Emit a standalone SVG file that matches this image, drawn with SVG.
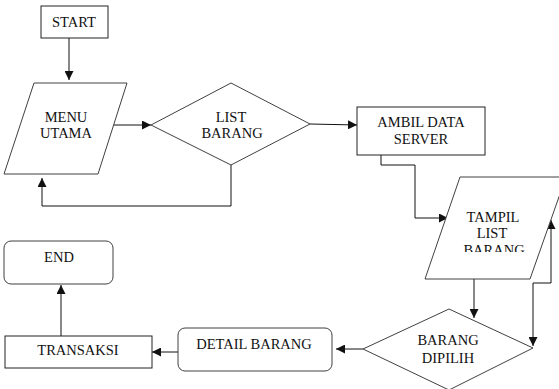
<svg xmlns="http://www.w3.org/2000/svg" width="559" height="389" viewBox="0 0 559 389">
<style>
.shape{fill:#fff;stroke:#404040;stroke-width:1}
.box{fill:#fff;stroke:#222;stroke-width:1}
.t{font-family:'Liberation Serif','Times New Roman','DejaVu Serif',serif;font-size:14.5px;fill:#111;text-anchor:middle}
.c{fill:none;stroke:#111;stroke-width:1}
</style>
<defs>
<marker id="ah" viewBox="0 0 10 10" refX="10" refY="5" markerWidth="9" markerHeight="9" markerUnits="userSpaceOnUse" orient="auto">
<path d="M0,0 L10,5 L0,10 Z" fill="#111"/>
</marker>
<clipPath id="tclip"><rect x="420" y="170" width="139" height="82"/></clipPath>
</defs>
<rect width="559" height="389" fill="#fff"/>
<g id="connectors">
<path class="c" d="M69,38 V80" marker-end="url(#ah)"/>
<path class="c" d="M114,125 L151,125" marker-end="url(#ah)"/>
<path class="c" d="M231,165 V206 H42 V178" marker-end="url(#ah)"/>
<path class="c" d="M310,124 L357,125" marker-end="url(#ah)"/>
<path class="c" d="M381,155 V165 H415 V218 H448" marker-end="url(#ah)"/>
<path class="c" d="M474,279 V318" marker-end="url(#ah)"/>
<path class="c" d="M533,283 V346" marker-end="url(#ah)"/>
<path class="c" d="M533,283 H551 V220" marker-end="url(#ah)"/>
<path class="c" d="M363,349 H336" marker-end="url(#ah)"/>
<path class="c" d="M178,352 H152" marker-end="url(#ah)"/>
<path class="c" d="M61,336 V285" marker-end="url(#ah)"/>
</g>
<g id="start">
<rect class="box" x="41" y="6" width="67" height="32"/>
<text class="t" x="74" y="27">START</text>
</g>
<g id="menu-utama">
<polygon class="shape" points="34,83 127,83 98,174 4,174"/>
<text class="t" x="66" y="122">MENU</text>
<text class="t" x="66" y="138">UTAMA</text>
</g>
<g id="list-barang">
<polygon class="shape" points="151,125 231,83 310,124 231,165"/>
<text class="t" x="231" y="122">LIST</text>
<text class="t" x="232" y="138">BARANG</text>
</g>
<g id="ambil-data-server">
<rect class="box" x="357" y="107" width="128" height="48"/>
<text class="t" x="421" y="127">AMBIL DATA</text>
<text class="t" x="421" y="144">SERVER</text>
</g>
<g id="tampil-list-barang">
<polygon class="shape" points="460,177 566,177 530,279 425,279"/>
<g clip-path="url(#tclip)">
<text class="t" x="493" y="222">TAMPIL</text>
<text class="t" x="492" y="238">LIST</text>
<text class="t" x="494" y="255">BARANG</text>
</g>
</g>
<g id="barang-dipilih">
<polygon class="shape" points="363,349 449,309 533,348 449,390"/>
<text class="t" x="448" y="345">BARANG</text>
<text class="t" x="448" y="363">DIPILIH</text>
</g>
<g id="detail-barang">
<rect class="shape" x="178" y="328" width="154" height="43" rx="7"/>
<text class="t" x="254" y="349">DETAIL BARANG</text>
</g>
<g id="transaksi">
<rect class="box" x="5" y="336" width="147" height="32"/>
<text class="t" x="78" y="355">TRANSAKSI</text>
</g>
<g id="end">
<rect class="shape" x="4" y="241" width="109" height="43" rx="7"/>
<text class="t" x="59" y="262">END</text>
</g>
</svg>
